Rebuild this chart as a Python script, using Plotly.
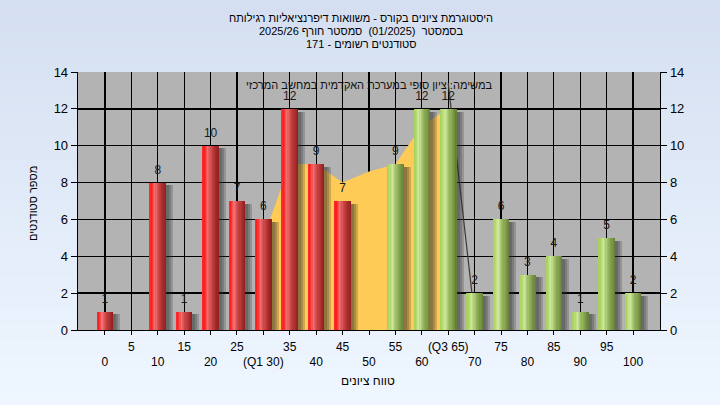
import plotly.graph_objects as go

# ---------------- data ----------------
grades = [0, 5, 10, 15, 20, 25, 30, 35, 40, 45, 50, 55, 60, 65, 70, 75, 80, 85, 90, 95, 100]
counts = [1, 0, 8, 1, 10, 7, 6, 12, 9, 7, 0, 9, 12, 12, 2, 6, 3, 4, 1, 5, 2]
tick_labels = ["0", "5", "10", "15", "20", "25", "(Q1 30)", "35", "40", "45", "50",
               "55", "60", "(Q3 65)", "70", "75", "80", "85", "90", "95", "100"]
area_x = [30, 35, 40, 45, 50, 55, 60, 65]
area_y = [5, 9, 9, 8, 8.6, 9, 11.1, 12]
line_x = [65, 70]
line_y = [13.4, 0.7]
pass_grade = 55

title_lines = [
    "היסטוגרמת ציונים בקורס - משוואות דיפרנציאליות רגילותח",
    "בסמסטר  (01/2025)  סמסטר חורף 2025/26",
    "סטודנטים רשומים - 171",
]
inner_text = "במשימה: ציון סופי במערכת האקדמית במחשב המרכזי"
x_title = "טווח ציונים"
y_title = "מספר סטודנטים"

# ---------------- style ----------------
FONT = "Liberation Sans, Arial, DejaVu Sans, sans-serif"
W, H = 720, 405
ML, MR, MT, MB = 78, 60, 72, 75
XR = [-5.1, 105.1]
PX = (W - ML - MR) / (XR[1] - XR[0])  # px per unit
BW = 16.6 / PX

red_stops = [(0, (255, 48, 48)), (0.12, (255, 28, 28)), (0.32, (238, 112, 112)),
             (0.55, (204, 68, 68)), (0.8, (168, 44, 44)), (1, (140, 30, 30))]
green_stops = [(0, (166, 207, 92)), (0.15, (178, 216, 108)), (0.32, (205, 231, 156)),
               (0.55, (156, 187, 98)), (0.8, (124, 154, 72)), (1, (98, 124, 54))]


def interp(stops, t):
    for (t0, c0), (t1, c1) in zip(stops[:-1], stops[1:]):
        if t0 <= t <= t1:
            f = (t - t0) / (t1 - t0) if t1 > t0 else 0
            return "rgb(%d,%d,%d)" % tuple(round(a + (b - a) * f) for a, b in zip(c0, c1))
    return "rgb(%d,%d,%d)" % stops[-1][1]


fig = go.Figure()

# background gradient bands
shapes = []
NB = 50
top, bot = (212, 223, 241), (239, 246, 255)
ph = H - MT - MB
pw = W - ML - MR
y_lo, y_hi = -MB / ph, 1 + MT / ph
x_lo, x_hi = -ML / pw, 1 + MR / pw
for i in range(NB):
    f = i / (NB - 1)
    c = tuple(round(bot[k] + (top[k] - bot[k]) * f) for k in range(3))
    y0 = y_lo + (y_hi - y_lo) * i / NB
    y1 = y_lo + (y_hi - y_lo) * (i + 1) / NB + 0.002
    shapes.append(dict(type="rect", xref="paper", yref="paper", x0=x_lo, x1=x_hi,
                       y0=y0, y1=y1, fillcolor="rgb(%d,%d,%d)" % c, line_width=0, layer="below"))
shapes.append(dict(type="rect", xref="paper", yref="paper", x0=0, x1=1, y0=0, y1=1,
                   fillcolor="#b3b3b3", line_width=0, layer="below"))

# yellow area + line (lower subplot, left axis)
fig.add_trace(go.Scatter(x=area_x, y=area_y, mode="lines", fill="tozeroy",
                         fillcolor="#FFCB57", line=dict(width=0, color="#FFCB57"),
                         hoverinfo="skip", showlegend=False))
fig.add_trace(go.Scatter(x=line_x, y=line_y, mode="lines",
                         line=dict(width=1.2, color="#3a3a3a"),
                         hoverinfo="skip", showlegend=False))

# shadows (upper subplot, right axis)
for extra in [7, 5, 3]:
    fig.add_trace(go.Bar(x=grades, y=counts, base=-0.15, yaxis="y2",
                         width=BW + (extra - 2) / PX, offset=-BW / 2 + 2 / PX,
                         marker=dict(color="rgba(40,40,40,0.22)", line_width=0),
                         hoverinfo="skip", showlegend=False))

# cylinder bars (slices)
NS = 14
for i in range(NS):
    t = (i + 0.5) / NS
    cols = [interp(red_stops if g < pass_grade else green_stops, t) for g in grades]
    fig.add_trace(go.Bar(x=grades, y=counts, width=BW * (1 - i / NS), yaxis="y2",
                         offset=-BW / 2 + BW * i / NS,
                         marker=dict(color=cols, line_width=0),
                         hoverinfo="skip", showlegend=False))

# value labels
lx = [g for g, c in zip(grades, counts) if c > 0]
ly = [c for c in counts if c > 0]
fig.add_trace(go.Scatter(x=lx, y=ly, mode="markers+text", text=[str(v) for v in ly],
                         yaxis="y2", marker=dict(size=8, opacity=0),
                         textposition="top center", cliponaxis=False,
                         textfont=dict(size=12, color="#1a1a1a", family=FONT),
                         hoverinfo="skip", showlegend=False))

ticktext = [lab if i % 2 == 1 else "<br>" + lab for i, lab in enumerate(tick_labels)]

annotations = []
for i, (line, yy) in enumerate(zip(title_lines, [18, 31, 44])):
    annotations.append(dict(text=line, xref="paper", yref="paper",
                            x=(361 - ML) / pw, y=1 + (MT - yy) / ph,
                            xanchor="center", yanchor="middle", showarrow=False,
                            font=dict(size=11, color="#000", family=FONT)))
annotations.append(dict(text=inner_text, xref="paper", yref="paper",
                        x=(369 - ML) / pw, y=1 - (85 - MT) / ph,
                        xanchor="center", yanchor="middle", showarrow=False,
                        font=dict(size=11, color="#111", family=FONT)))
annotations.append(dict(text=x_title, xref="paper", yref="paper",
                        x=(368 - ML) / pw, y=-(381 - H + MB) / ph,
                        xanchor="center", yanchor="middle", showarrow=False,
                        font=dict(size=12, color="#000", family=FONT)))
annotations.append(dict(text=y_title, xref="paper", yref="paper",
                        x=(33 - ML) / pw, y=1 - (204 - MT) / ph, textangle=-90,
                        xanchor="center", yanchor="middle", showarrow=False,
                        font=dict(size=11, color="#000", family=FONT)))

fig.update_layout(
    width=W, height=H,
    margin=dict(l=ML, r=MR, t=MT, b=MB, pad=0),
    paper_bgcolor="#e2ebf8", plot_bgcolor="rgba(0,0,0,0)",
    barmode="overlay", bargap=0, hovermode=False,
    font=dict(family=FONT, size=12, color="#000"),
    shapes=shapes, annotations=annotations,
    xaxis=dict(range=XR, tickvals=grades, ticktext=ticktext, tickangle=0,
               showgrid=True, gridcolor="#000", gridwidth=1.3,
               showline=True, linecolor="#000", linewidth=1.3,
               ticks="outside", ticklen=4, tickcolor="#000", tickwidth=1,
               ticklabelstandoff=1, zeroline=False, fixedrange=True,
               tickfont=dict(size=12, color="#000")),
    yaxis=dict(range=[0, 14], dtick=2, tick0=0, showgrid=True, gridcolor="#000",
               gridwidth=1.3, showline=True, linecolor="#000", linewidth=1.3,
               ticks="outside", ticklen=6, tickcolor="#000", zeroline=False,
               fixedrange=True, tickfont=dict(size=13, color="#000")),
    yaxis2=dict(range=[0, 14], dtick=2, tick0=0, overlaying="y", side="right",
                showgrid=False, showline=True, linecolor="#000", linewidth=1.3,
                ticks="outside", ticklen=6, tickcolor="#000", zeroline=False,
                fixedrange=True, tickfont=dict(size=13, color="#000")),
)

fig.write_html("out.html", config={"displayModeBar": False, "staticPlot": True},
               post_script="document.body.style.margin='0';document.body.style.overflow='hidden';")
